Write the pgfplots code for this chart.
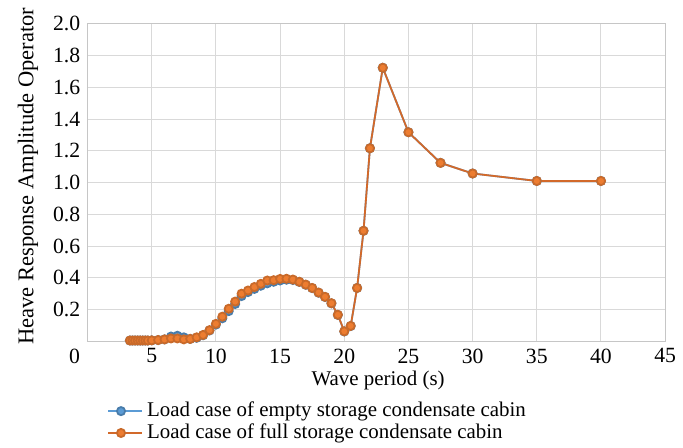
\documentclass[border=0pt]{standalone}
\usepackage{fontspec}
\setmainfont{Liberation Serif}
\usepackage{pgfplots}
\pgfplotsset{compat=1.18}

\definecolor{xlblue}{HTML}{5B9BD5}
\definecolor{xlorange}{HTML}{ED7D31}
\definecolor{xlline}{HTML}{D2692A}

\pgfplotstableread{
x y
3.3 0.005
3.5 0.005
3.7 0.005
3.9 0.005
4.1 0.005
4.3 0.005
4.5 0.005
4.7 0.005
5.0 0.006
5.5 0.008
6.0 0.012
6.5 0.030
7.0 0.035
7.5 0.025
8.0 0.015
8.5 0.022
9.0 0.038
9.5 0.068
10.0 0.105
10.5 0.145
11.0 0.19
11.5 0.235
12.0 0.285
12.5 0.31
13.0 0.33
13.5 0.35
14.0 0.365
14.5 0.375
15.0 0.383
15.5 0.388
16.0 0.386
16.5 0.374
17.0 0.356
17.5 0.335
18.0 0.306
18.5 0.279
19.0 0.239
19.5 0.166
20.0 0.062
20.5 0.096
21.0 0.336
21.5 0.696
22.0 1.216
23.0 1.723
25.0 1.317
27.5 1.124
30.0 1.057
35.0 1.010
40.0 1.010
}\emptycase

\pgfplotstableread{
x y
3.3 0.005
3.5 0.005
3.7 0.005
3.9 0.005
4.1 0.005
4.3 0.005
4.5 0.005
4.7 0.005
5.0 0.006
5.5 0.008
6.0 0.012
6.5 0.018
7.0 0.018
7.5 0.012
8.0 0.015
8.5 0.025
9.0 0.040
9.5 0.070
10.0 0.110
10.5 0.155
11.0 0.205
11.5 0.250
12.0 0.300
12.5 0.320
13.0 0.342
13.5 0.362
14.0 0.383
14.5 0.385
15.0 0.393
15.5 0.394
16.0 0.389
16.5 0.375
17.0 0.357
17.5 0.336
18.0 0.307
18.5 0.280
19.0 0.240
19.5 0.167
20.0 0.063
20.5 0.097
21.0 0.336
21.5 0.696
22.0 1.216
23.0 1.723
25.0 1.317
27.5 1.124
30.0 1.057
35.0 1.010
40.0 1.010
}\fullcase

\begin{document}
\fontsize{10.5}{12}\selectfont
\begin{tikzpicture}
\begin{axis}[
    scale only axis,
    width=290pt,
    height=159.4pt,
    xmin=0, xmax=45,
    ymin=0, ymax=2,
    xtick={5,10,...,45},
    ytick={0.2,0.4,...,2.0},
    extra x ticks={0},
    extra x tick style={grid=none, xticklabel style={xshift=-6.5pt}},
    yticklabel style={/pgf/number format/.cd, fixed, fixed zerofill, precision=1},
    /pgf/number format/assume math mode=true,
    tick label style={font=\fontsize{10.9}{12}\selectfont},
    xlabel style={font=\fontsize{10.5}{12}\selectfont},
    ylabel style={font=\fontsize{11.3}{13}\selectfont},
    grid=major,
    grid style={gray!30, line width=0.5pt},
    axis line style={gray!45},
    major tick length=0pt,
    xlabel={Wave period (s)},
    ylabel={Heave Response Amplitude Operator},
    xlabel style={at={(axis description cs:0.503,-0.123)}, anchor=center},
    ylabel style={at={(axis description cs:-0.103,0.52)}, anchor=center, rotate=0},
    legend style={at={(axis description cs:0.034,-0.178)}, anchor=north west,
        draw=none, fill=none, font=\fontsize{10.5}{12}\selectfont,
        row sep=-2pt, cells={anchor=west}, inner sep=0pt},
    legend image code/.code={\draw[mark repeat=2,mark phase=2]
        plot coordinates {(0pt,0pt) (6.3pt,0pt) (12.6pt,0pt)};
        \path (12.6pt,0pt) -- (17pt,0pt);},
]
\addplot[xlblue, line width=0.9pt, mark=*, mark size=2.05pt,
    mark options={fill=xlblue, draw=xlblue!80!black}] table[x=x,y=y] {\emptycase};
\addlegendentry{Load case of empty storage condensate cabin}
\addplot[xlline, line width=0.9pt, mark=*, mark size=2.05pt,
    mark options={fill=xlorange, draw=xlorange!85!black}] table[x=x,y=y] {\fullcase};
\addlegendentry{Load case of full storage condensate cabin}
\end{axis}
\path[use as bounding box] (-43.95pt,-53.15pt) rectangle (297.55pt,171.35pt);
\end{tikzpicture}
\end{document}
